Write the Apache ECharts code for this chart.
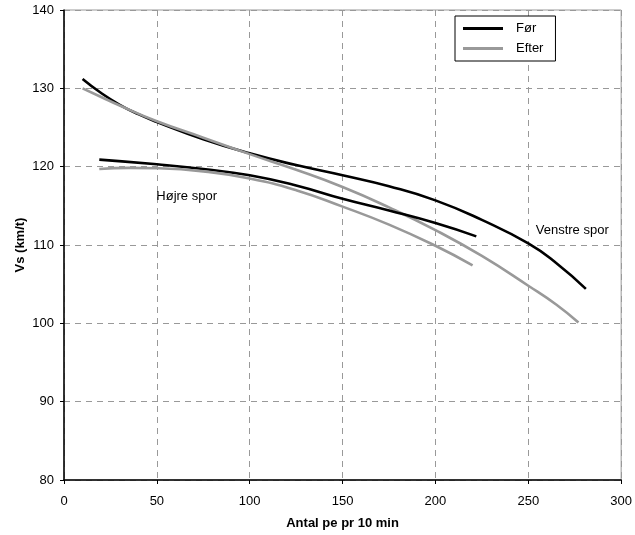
<!DOCTYPE html>
<html>
<head>
<meta charset="utf-8">
<script src="https://cdn.jsdelivr.net/npm/echarts@6/dist/echarts.min.js"></script>
<style>html,body{margin:0;padding:0;background:#fff}#c{width:635px;height:535px}</style>
</head>
<body>
<div id="c"></div>
<script>
var xTicks = [0, 50, 100, 150, 200, 250, 300];
var yTicks = [80, 90, 100, 110, 120, 130, 140];
var venstreFor = [[10,131.2],[20,129.4],[30,127.9],[40,126.7],[50,125.7],[75,123.5],[100,121.7],[125,120.2],[150,118.9],[175,117.5],[200,115.7],[225,113.2],[250,110.2],[265,107.7],[281,104.4]];
var venstreEfter = [[10,130],[20,128.9],[30,127.8],[50,125.8],[75,123.7],[100,121.6],[125,119.6],[150,117.4],[175,114.8],[200,111.9],[225,108.6],[250,104.8],[265,102.4],[277,100.1]];
var hojreFor = [[19,120.9],[50,120.3],[75,119.7],[100,118.9],[125,117.6],[150,115.9],[175,114.4],[200,112.8],[222,111.1]];
var hojreEfter = [[19,119.7],[35,119.85],[50,119.8],[75,119.4],[100,118.5],[125,117.0],[150,114.9],[175,112.6],[200,109.9],[220,107.4]];
var labels = [{text:'Højre spor', x:49.7, y:116.2},{text:'Venstre spor', x:254, y:111.9}];

var chart = echarts.init(document.getElementById('c'), null, {renderer:'canvas'});
var font = 'Liberation Sans, Arial, sans-serif';
function ser(name, data, color, extra){
  var s = {name:name, type:'line', data:data, smooth:0.5, symbol:'none',
    lineStyle:{color:color, width:2.6}, itemStyle:{color:color}, z:3};
  if (extra) s.markPoint = extra;
  return s;
}
var mp = {symbol:'circle', symbolSize:0, silent:true,
  label:{show:true, position:'right', distance:0, color:'#000', fontSize:13, fontFamily:font,
    formatter:function(p){return p.name;}},
  data: labels.map(function(l){return {name:l.text, coord:[l.x,l.y]};})};
chart.setOption({
  animation:false,
  textStyle:{fontFamily:font},
  grid:{left:64, right:12, top:10, bottom:55, show:true, borderColor:'#999', borderWidth:1},
  legend:{
    data:[{name:'Før', icon:'rect'},{name:'Efter', icon:'rect'}],
    orient:'vertical', left:455, top:16, itemWidth:40, itemHeight:3, itemGap:7,
    padding:[6,12,6,8], borderColor:'#000', borderWidth:1, backgroundColor:'#fff',
    textStyle:{fontSize:13, color:'#000', fontFamily:font, padding:[0,0,0,8]}
  },
  xAxis:{type:'value', min:xTicks[0], max:xTicks[xTicks.length-1], interval:50,
    name:'Antal pe pr 10 min', nameLocation:'middle', nameGap:37,
    nameTextStyle:{fontWeight:'bold', fontSize:13, color:'#000', fontFamily:font},
    axisLine:{lineStyle:{color:'#000', width:1.5}},
    axisTick:{show:true, length:4, lineStyle:{color:'#000'}},
    axisLabel:{color:'#000', fontSize:13, margin:15, fontFamily:font},
    splitLine:{show:true, lineStyle:{type:[6,5], color:'#999', width:1}}},
  yAxis:{type:'value', min:yTicks[0], max:yTicks[yTicks.length-1], interval:10,
    name:'Vs (km/t)', nameLocation:'middle', nameGap:37, nameRotate:90, nameMoveOverlap:false,
    nameTextStyle:{fontWeight:'bold', fontSize:13, color:'#000', fontFamily:font},
    axisLine:{show:true, lineStyle:{color:'#000', width:1.5}},
    axisTick:{show:true, length:4, lineStyle:{color:'#000'}},
    axisLabel:{color:'#000', fontSize:13, margin:10, fontFamily:font},
    splitLine:{show:true, lineStyle:{type:[6,5], color:'#999', width:1}}},
  series:[
    ser('Før', venstreFor, '#000', mp),
    ser('Efter', venstreEfter, '#999'),
    ser('Før', hojreFor, '#000'),
    ser('Efter', hojreEfter, '#999')
  ]
});
</script>
</body>
</html>
